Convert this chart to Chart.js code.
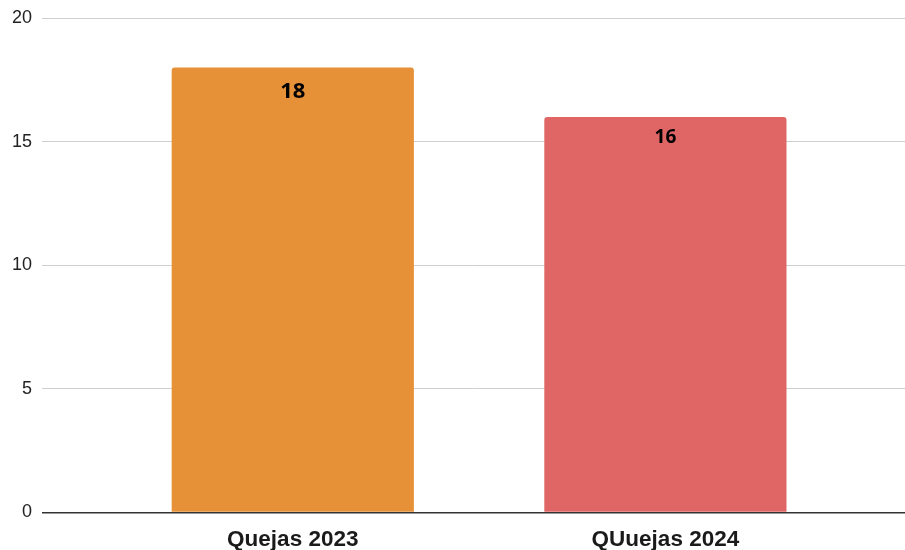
<!DOCTYPE html>
<html>
<head>
<meta charset="utf-8">
<script src="https://cdn.jsdelivr.net/npm/chart.js@4"></script>
<style>
  html, body { margin: 0; padding: 0; background: #fff; }
  #wrap { width: 905px; height: 550px; }
</style>
</head>
<body>
<div id="wrap"><canvas id="quejasChart"></canvas></div>
<script>
// Data
const categories = ['Quejas 2023', 'QUuejas 2024'];
const quejas = [18, 16];
const yTicks = [0, 5, 10, 15, 20];

// Styles
const barColors = ['#E69138', '#E06666'];
const labelSizes = [22, 19]; // value labels are not the same size in the original

// Value labels drawn inside the top of each bar
const valueLabels = {
    id: 'valueLabels',
    afterDatasetsDraw(chart) {
        const ctx = chart.ctx;
        const meta = chart.getDatasetMeta(0);
        ctx.save();
        ctx.fillStyle = '#000';
        ctx.textAlign = 'center';
        ctx.textBaseline = 'alphabetic';
        meta.data.forEach((bar, i) => {
            const size = labelSizes[i];
            ctx.font = 'bold ' + size + 'px "Noto Sans"';
            ctx.fillText(String(quejas[i]), bar.x, bar.y + size * 1.38);
        });
        ctx.restore();
    }
};

const ctx = document.getElementById('quejasChart').getContext('2d');

const myChart = new Chart(ctx, {
    type: 'bar',
    data: {
        datasets: [{
            data: quejas.map((v, i) => ({ x: i, y: v })),
            backgroundColor: barColors,
            borderRadius: 3,
            borderSkipped: 'bottom',
            categoryPercentage: 1,
            barPercentage: 0.65
        }]
    },
    options: {
        responsive: true,
        maintainAspectRatio: false,
        animation: false,
        layout: { padding: { left: 2, top: 18, right: 0, bottom: 0 } },
        plugins: {
            legend: { display: false },
            tooltip: { enabled: false }
        },
        scales: {
            x: {
                type: 'linear',
                offset: false,
                min: -0.673,
                max: 1.643,
                grid: { display: false, drawTicks: false },
                border: { display: false },
                afterBuildTicks: (scale) => {
                    scale.ticks = categories.map((c, i) => ({ value: i }));
                },
                afterFit: (scale) => { scale.height = 37.5; },
                ticks: {
                    padding: 14,
                    color: '#1a1a1a',
                    font: { family: '"Liberation Sans", Arial, sans-serif', size: 22.5, weight: 'bold' },
                    callback: (value) => categories[value]
                }
            },
            y: {
                min: 0,
                max: 20,
                afterBuildTicks: (scale) => {
                    scale.ticks = yTicks.map(v => ({ value: v }));
                },
                afterFit: (scale) => {
                    scale.width = 40;
                    scale.paddingTop = 0;
                },
                grid: {
                    drawTicks: false,
                    color: (c) => c.tick.value === 0 ? '#333' : '#cfcfcf',
                    lineWidth: (c) => c.tick.value === 0 ? 1.5 : 1
                },
                border: { display: false },
                ticks: {
                    padding: 10,
                    color: '#222',
                    font: { family: '"Liberation Sans", Arial, sans-serif', size: 18 }
                }
            }
        }
    },
    plugins: [valueLabels]
});
</script>
</body>
</html>
